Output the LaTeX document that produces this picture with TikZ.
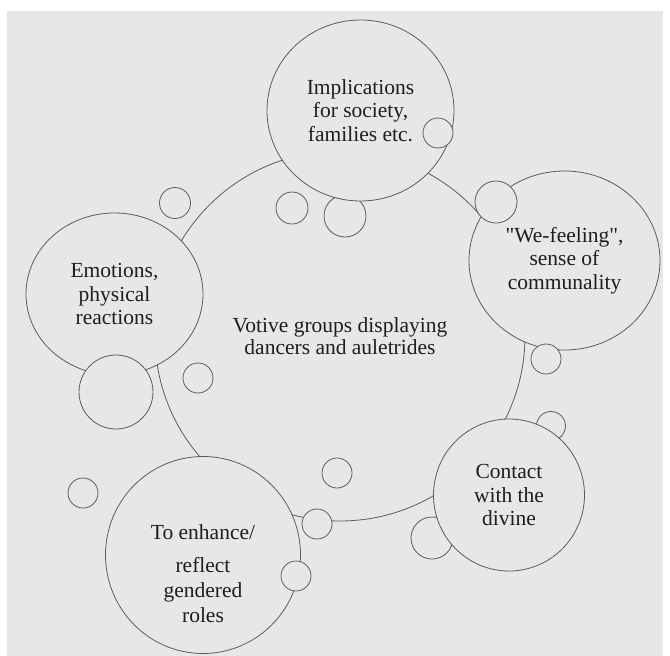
\documentclass[tikz,border=0pt]{standalone}
\usepackage{fontspec}
\setmainfont{Liberation Serif}
\usetikzlibrary{shapes.geometric, positioning}
\definecolor{panel}{HTML}{E6E7E9}
\definecolor{rim}{HTML}{5C5C5C}
\definecolor{ink}{HTML}{1E1E1E}
\newcommand{\bubblefont}{\fontsize{21.5}{23.5}\selectfont}

\tikzset{
    bubble/.style={ellipse, draw=rim, fill=panel, line width=0.8pt, inner sep=0pt,
        align=center, text=ink, font=\bubblefont},
    blob/.style={circle, draw=rim, fill=panel, line width=0.8pt, inner sep=0pt}
}

\begin{document}
\begin{tikzpicture}[x=1pt, y=-1pt]
    % Page and grey panel
    \useasboundingbox (0,0) rectangle (670,656);
    \fill[white] (0,0) rectangle (670,656);
    \fill[panel] (7,11) rectangle (663,656);

    % Central ring
    \node[blob, minimum size=370, align=center, text=ink,
          font=\fontsize{21.5}{22}\selectfont] (hub) at (340,336)
        {Votive groups displaying\\dancers and auletrides};

    % Small circles lying behind the big ones
    \foreach \n/\x/\y/\r in {b3/345/216/21, b7/551/426/14.5, b8/432/538/21} {
        \node[blob, minimum size=2*\r] (\n) at (\x,\y) {};
    }

    % Big circles round the ring
    \node[bubble, minimum width=187, minimum height=181] (impl) at (360.5,110.5)
        {Implications\\for society,\\families etc.};
    \node[bubble, minimum width=191, minimum height=179] (wefeel) at (564.5,260.5)
        {\textquotedbl We-feeling\textquotedbl,\\sense of\\communality};
    \node[bubble, minimum width=177, minimum height=162] (emotions) at (114.5,294)
        {Emotions,\\physical\\reactions};
    \node[bubble, minimum width=151, minimum height=152] (contact) at (509,495)
        {Contact\\with the\\divine};
    \node[bubble, minimum width=195, minimum height=197] (gender) at (203,555) {};
    \node[align=center, text=ink, font=\fontsize{21.5}{25}\selectfont] (gendertext) at (203,574)
        {To enhance/\\[8pt]reflect\\gendered\\roles};

    % Small circles on top
    \foreach \n/\x/\y/\r in {b4/438/133/15, b5/496/202/21, b6/546/359/15,
                             b10/317/524/15, b11/296/576/15, b14/116/392/37} {
        \node[blob, minimum size=2*\r] (\n) at (\x,\y) {};
    }

    % Loose small circles
    \foreach \n/\x/\y/\r in {b1/175/203/15.5, b2/292/208/16, b9/337/473/15,
                             b12/83/493/15, b13/198/378/15} {
        \node[blob, minimum size=2*\r] (\n) at (\x,\y) {};
    }
\end{tikzpicture}
\end{document}
